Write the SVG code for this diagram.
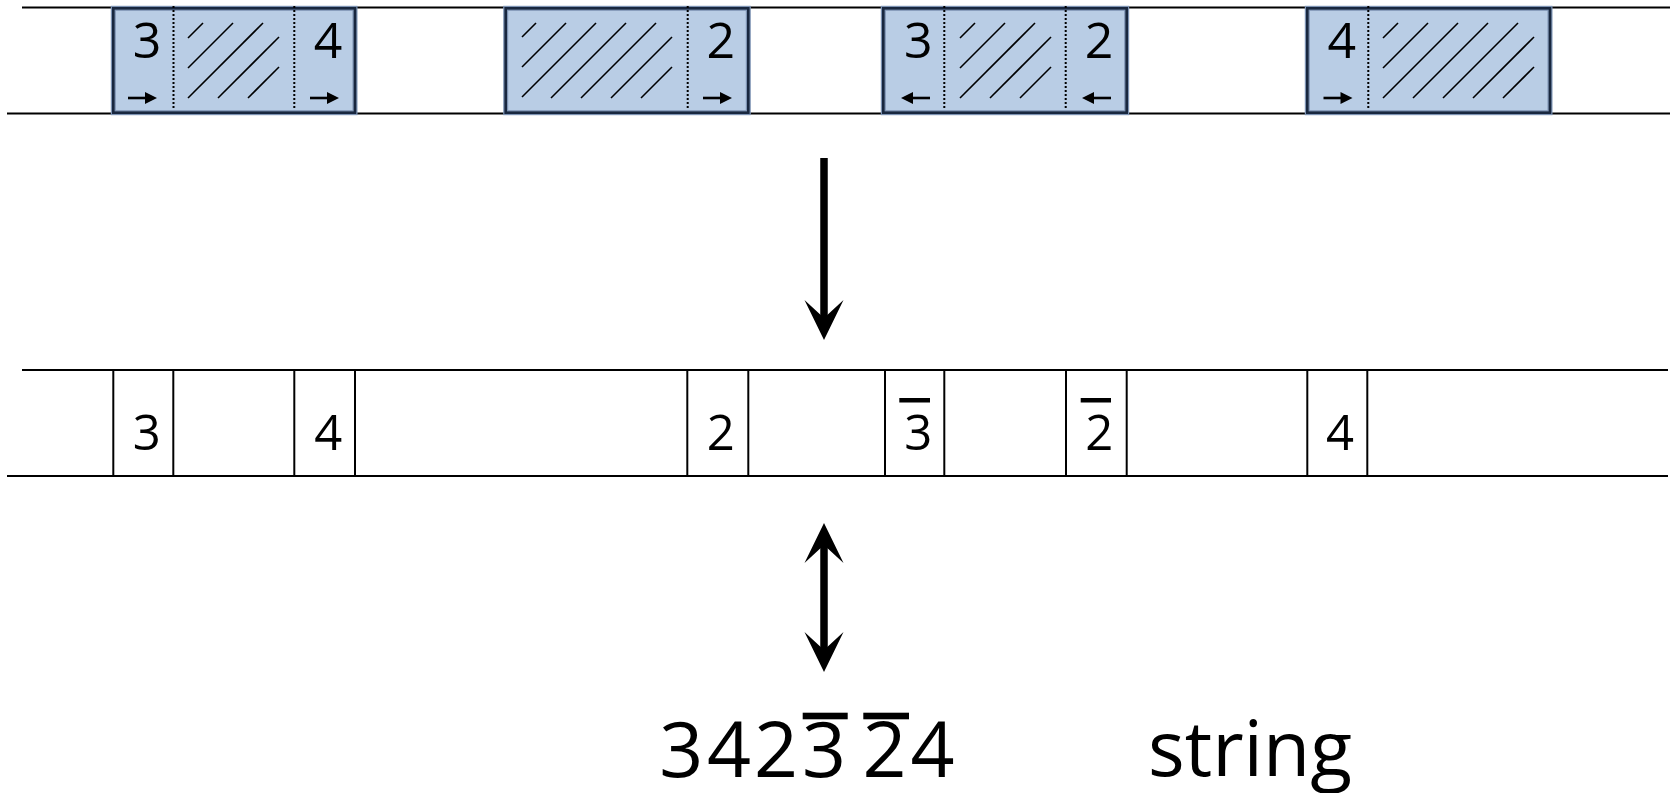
<svg xmlns="http://www.w3.org/2000/svg" xmlns:xlink="http://www.w3.org/1999/xlink" width="1675" height="793" viewBox="0 0 1675 793">
  <style>
    .rail { stroke: #000; stroke-width: 2; fill: none; }
    .cell { stroke: #000; stroke-width: 2; fill: none; }
    .blk-halo { fill: #b9cde5; stroke: #7d93b3; stroke-width: 5; }
    .blk { fill: none; stroke: #18273f; stroke-width: 2.6; }
    .dots { stroke: #000; stroke-width: 2; stroke-dasharray: 2 2; fill: none; }
    .hatch { stroke: #000; stroke-width: 1.6; fill: none; }
    .lbl { font-family: "Open Sans", "Noto Sans", "DejaVu Sans", sans-serif; fill: #000; text-anchor: middle; }
    .top { font-size: 50px; }
    .mid { font-size: 49px; }
    .big { font-size: 77px; }
    .bar { fill: #000; }
    .conn { stroke: #000; stroke-width: 7.5; fill: none; }
  </style>
  <defs>
    <!-- stealth-style head; origin sits at the notch, tip points along +x -->
    <marker id="stealth" viewBox="-20 -21 44 42" refX="0" refY="0" markerWidth="44" markerHeight="42" markerUnits="userSpaceOnUse" orient="auto-start-reverse" overflow="visible">
      <path d="M22,0 L-18,-19.5 L0,0 L-18,19.5 Z" fill="#000"/>
    </marker>
    <!-- small direction arrow inside a block -->
    <g id="dir">
      <line x1="0" y1="0" x2="19" y2="0" stroke="#000" stroke-width="2.6"/>
      <polygon points="17,-6 29,0 17,6" fill="#000"/>
    </g>
  </defs>

  <rect width="1675" height="793" fill="#fff"/>

  <!-- upper band -->
  <g id="band-top">
    <line class="rail" x1="22" y1="7.5" x2="1670" y2="7.5"/>
    <line class="rail" x1="7" y1="113.5" x2="1670" y2="113.5"/>
  </g>

  <g id="block-1">
    <rect class="blk-halo" x="113.3" y="8.3" width="241.7" height="104.4"/>
    <rect class="blk" x="113.3" y="8.3" width="241.7" height="104.4"/>
    <line class="dots" x1="173.5" y1="6" x2="173.5" y2="110"/>
    <line class="dots" x1="294.3" y1="6" x2="294.3" y2="110"/>
    <g class="hatch">
      <line x1="188" y1="38" x2="203" y2="23"/>
      <line x1="188" y1="68" x2="233" y2="23"/>
      <line x1="188" y1="98" x2="263" y2="23"/>
      <line x1="218" y1="98" x2="279" y2="37"/>
      <line x1="248" y1="98" x2="279" y2="67"/>
    </g>
    <text class="lbl top" x="147" y="58">3</text>
    <text class="lbl top" x="328" y="58">4</text>
    <use xlink:href="#dir" x="128" y="98"/>
    <use xlink:href="#dir" x="310" y="98"/>
  </g>

  <g id="block-2">
    <rect class="blk-halo" x="505.7" y="8.3" width="242.6" height="104.4"/>
    <rect class="blk" x="505.7" y="8.3" width="242.6" height="104.4"/>
    <line class="dots" x1="687.7" y1="6" x2="687.7" y2="110"/>
    <g class="hatch">
      <line x1="522" y1="37" x2="536" y2="23"/>
      <line x1="522" y1="67" x2="566" y2="23"/>
      <line x1="522" y1="97" x2="596" y2="23"/>
      <line x1="551" y1="98" x2="626" y2="23"/>
      <line x1="581" y1="98" x2="656" y2="23"/>
      <line x1="611" y1="98" x2="672" y2="37"/>
      <line x1="641" y1="98" x2="672" y2="67"/>
    </g>
    <text class="lbl top" x="720.7" y="58">2</text>
    <use xlink:href="#dir" x="703" y="98"/>
  </g>

  <g id="block-3">
    <rect class="blk-halo" x="883.3" y="8.3" width="243.4" height="104.4"/>
    <rect class="blk" x="883.3" y="8.3" width="243.4" height="104.4"/>
    <line class="dots" x1="944.3" y1="6" x2="944.3" y2="110"/>
    <line class="dots" x1="1065.7" y1="6" x2="1065.7" y2="110"/>
    <g class="hatch">
      <line x1="960" y1="38" x2="975" y2="23"/>
      <line x1="960" y1="68" x2="1005" y2="23"/>
      <line x1="960" y1="98" x2="1035" y2="23"/>
      <line x1="990" y1="98" x2="1051" y2="37"/>
      <line x1="1020" y1="98" x2="1051" y2="67"/>
    </g>
    <text class="lbl top" x="918.3" y="58">3</text>
    <text class="lbl top" x="1099" y="58">2</text>
    <use xlink:href="#dir" transform="translate(930,98) scale(-1,1)"/>
    <use xlink:href="#dir" transform="translate(1111,98) scale(-1,1)"/>
  </g>

  <g id="block-4">
    <rect class="blk-halo" x="1307.3" y="8.3" width="242.7" height="104.4"/>
    <rect class="blk" x="1307.3" y="8.3" width="242.7" height="104.4"/>
    <line class="dots" x1="1368.3" y1="6" x2="1368.3" y2="110"/>
    <g class="hatch">
      <line x1="1383" y1="38" x2="1398" y2="23"/>
      <line x1="1383" y1="68" x2="1428" y2="23"/>
      <line x1="1383" y1="98" x2="1458" y2="23"/>
      <line x1="1413" y1="98" x2="1488" y2="23"/>
      <line x1="1443" y1="98" x2="1518" y2="23"/>
      <line x1="1473" y1="98" x2="1534" y2="37"/>
      <line x1="1503" y1="98" x2="1534" y2="67"/>
    </g>
    <text class="lbl top" x="1341.7" y="58">4</text>
    <use xlink:href="#dir" x="1323.5" y="98"/>
  </g>

  <!-- middle band: cut-down cells -->
  <g id="band-mid">
    <line class="rail" x1="22" y1="370" x2="1668" y2="370"/>
    <line class="rail" x1="7" y1="476" x2="1668" y2="476"/>
  </g>

  <g id="cell-3">
    <line class="cell" x1="113.3" y1="370" x2="113.3" y2="476"/>
    <line class="cell" x1="173.3" y1="370" x2="173.3" y2="476"/>
    <text class="lbl mid" x="146.7" y="450">3</text>
  </g>
  <g id="cell-4a">
    <line class="cell" x1="294.3" y1="370" x2="294.3" y2="476"/>
    <line class="cell" x1="355" y1="370" x2="355" y2="476"/>
    <text class="lbl mid" x="328.3" y="450">4</text>
  </g>
  <g id="cell-2">
    <line class="cell" x1="687.3" y1="370" x2="687.3" y2="476"/>
    <line class="cell" x1="748.3" y1="370" x2="748.3" y2="476"/>
    <text class="lbl mid" x="720.7" y="450">2</text>
  </g>
  <g id="cell-3bar">
    <line class="cell" x1="885" y1="370" x2="885" y2="476"/>
    <line class="cell" x1="944.3" y1="370" x2="944.3" y2="476"/>
    <rect class="bar" x="899.3" y="398" width="30.7" height="4.5"/>
    <text class="lbl mid" x="918.3" y="450">3</text>
  </g>
  <g id="cell-2bar">
    <line class="cell" x1="1066" y1="370" x2="1066" y2="476"/>
    <line class="cell" x1="1126.7" y1="370" x2="1126.7" y2="476"/>
    <rect class="bar" x="1080.7" y="398" width="30.3" height="4.5"/>
    <text class="lbl mid" x="1099.3" y="450">2</text>
  </g>
  <g id="cell-4b">
    <line class="cell" x1="1307.3" y1="370" x2="1307.3" y2="476"/>
    <line class="cell" x1="1367.3" y1="370" x2="1367.3" y2="476"/>
    <text class="lbl mid" x="1340" y="450">4</text>
  </g>

  <!-- signed word and its caption -->
  <g id="word">
    <text class="lbl big" x="681.3" y="777">3</text>
    <text class="lbl big" x="729" y="777">4</text>
    <text class="lbl big" x="776" y="777">2</text>
    <text class="lbl big" x="824" y="777">3</text>
    <text class="lbl big" x="884.5" y="777">2</text>
    <text class="lbl big" x="932.5" y="777">4</text>
    <rect class="bar" x="802.7" y="712.7" width="45" height="6.6"/>
    <rect class="bar" x="863.3" y="712.7" width="45.7" height="6.6"/>
  </g>
  <g id="caption">
    <text class="lbl big" x="1148" y="776" style="text-anchor:start">string</text>
  </g>

  <g id="connectors">
    <line class="conn" x1="824" y1="158" x2="824" y2="318" marker-end="url(#stealth)"/>
    <line class="conn" x1="824" y1="545" x2="824" y2="650" marker-start="url(#stealth)" marker-end="url(#stealth)"/>
  </g>
</svg>
